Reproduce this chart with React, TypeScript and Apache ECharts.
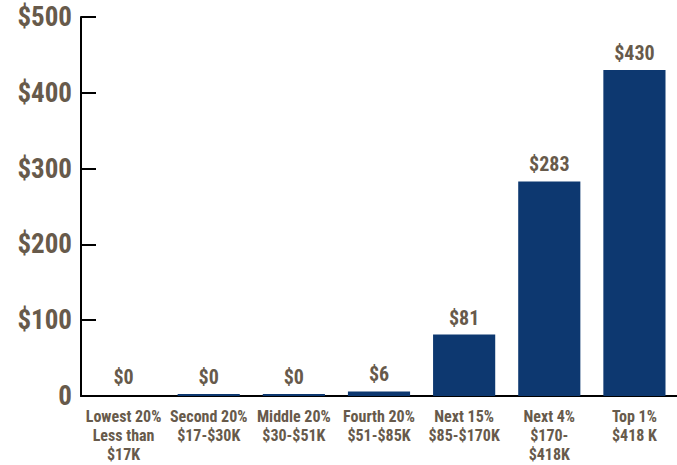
import React, { useEffect, useRef } from "react";
import * as echarts from "echarts";

const categories = [
  "Lowest 20%\nLess than\n$17K",
  "Second 20%\n$17-$30K",
  "Middle 20%\n$30-$51K",
  "Fourth 20%\n$51-$85K",
  "Next 15%\n$85-$170K",
  "Next 4%\n$170-\n$418K",
  "Top 1%\n$418 K",
];
const values = [0, 0.3, 0.3, 6, 81, 283, 430];
const yTicks = [0, 100, 200, 300, 400, 500];

const FONT = "'Roboto Condensed', 'Liberation Sans Narrow', 'DejaVu Sans Condensed', 'Arial Narrow', sans-serif";
const TEXT = "#675a4b";
const BAR = "#0d3870";

export default function App() {
  const ref = useRef<HTMLDivElement>(null);
  useEffect(() => {
    document.body.style.margin = "0";
    const chart = echarts.init(ref.current!, null, { renderer: "svg" });
    chart.setOption({
      animation: false,
      grid: { left: 81, right: 0, top: 17, bottom: 69, containLabel: false },
      xAxis: {
        type: "category",
        data: categories,
        axisLine: { show: true, lineStyle: { color: "#000", width: 2 } },
        axisTick: { show: false },
        axisLabel: {
          interval: 0,
          color: TEXT,
          fontFamily: FONT,
          fontWeight: "bold",
          fontSize: 16,
          lineHeight: 19,
          margin: 11,
        },
      },
      yAxis: {
        type: "value",
        min: yTicks[0],
        max: yTicks[yTicks.length - 1],
        interval: 100,
        axisLine: { show: true, lineStyle: { color: "#000", width: 2 } },
        axisTick: { show: true, inside: true, length: 15, lineStyle: { color: "#000", width: 2 } },
        splitLine: { show: false },
        axisLabel: {
          color: TEXT,
          fontFamily: FONT,
          fontWeight: "bold",
          fontSize: 27,
          margin: 9,
          formatter: (v: number) => (v === 0 ? "0" : "$" + v),
        },
      },
      series: [
        {
          type: "bar",
          data: values.map((v) => (v === 0 ? { value: v, itemStyle: { color: "rgba(0,0,0,0)" } } : v)),
          barWidth: "73%",
          barMinHeight: 2,
          z: 3,
          itemStyle: { color: BAR },
          label: {
            show: true,
            position: "top",
            distance: 7,
            color: TEXT,
            fontFamily: FONT,
            fontWeight: "bold",
            fontSize: 20,
            formatter: (p: any) => "$" + Math.round(p.value),
          },
        },
      ],
    });
    return () => chart.dispose();
  }, []);
  return <div ref={ref} style={{ width: 677, height: 465 }} />;
}
